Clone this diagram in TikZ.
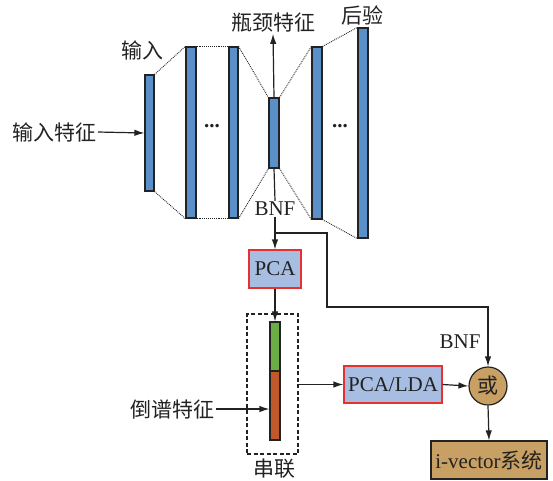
\documentclass[tikz,border=0pt]{standalone}
\usepackage{fontspec}
\setmainfont{Liberation Serif}
\newfontfamily\cjk{Noto Sans CJK SC}
\usetikzlibrary{arrows.meta}
\definecolor{layerblue}{HTML}{5B8FC7}
\definecolor{boxblue}{HTML}{A7BEE2}
\definecolor{boxred}{HTML}{E8302E}
\definecolor{bargreen}{HTML}{6AAD45}
\definecolor{barorange}{HTML}{C0582A}
\definecolor{tan}{HTML}{C9A063}
\definecolor{ink}{HTML}{222222}
\tikzset{
  layer/.style={draw=ink, fill=layerblue, line width=1.2pt, inner sep=0pt},
  conn/.style={draw=ink, line width=1.2pt},
  arr/.style={conn, -{Latex[length=10pt,width=6.5pt]}},
  dots/.style={draw=ink, line width=0.9pt, densely dotted},
  txt/.style={text=ink, font=\fontsize{21}{24}\selectfont},
  lbl/.style={inner sep=1pt, txt},
  procbox/.style={draw=boxred, fill=boxblue, line width=1.2pt, inner sep=0pt, txt},
  barseg/.style={draw=ink, line width=1.2pt, inner sep=0pt, minimum width=10pt},
}
\begin{document}
\begin{tikzpicture}[x=1pt,y=-1pt]
\useasboundingbox (0,0) rectangle (553,480);
% network layers
\node[layer, minimum width=9pt, minimum height=116pt] (l1) at (149.5,133) {};
\node[layer, minimum width=10pt, minimum height=171pt] (l2) at (191,132.5) {};
\node[layer, minimum width=9pt, minimum height=171pt] (l3) at (233.5,132.5) {};
\node[layer, minimum width=10pt, minimum height=70pt] (bn) at (274,133) {};
\node[layer, minimum width=10pt, minimum height=172pt] (l5) at (317,133) {};
\node[layer, minimum width=10pt, minimum height=210pt] (l6) at (363,133) {};
% dotted connections
\draw[dots] (l1.north east) -- (l2.north west) (l1.south east) -- (l2.south west);
\draw[dots] (l2.north east) -- (l3.north west) (l2.south east) -- (l3.south west);
\draw[dots] (l3.north east) -- (bn.north west) (l3.south east) -- (bn.south west);
\draw[dots] (bn.north east) -- (l5.north west) (bn.south east) -- (l5.south west);
\draw[dots] (l5.north east) -- (l6.north west) (l5.south east) -- (l6.south west);
\node[lbl] (d1) at (212,126) {\textbf{...}};
\node[lbl] (d2) at (340,126) {\textbf{...}};
% labels top
\node[lbl] (inlbl) at (142,50) {\cjk 输入};
\node[lbl] (bnlbl) at (273,23) {\cjk 瓶颈特征};
\node[lbl] (post) at (362,15) {\cjk 后验};
\node[lbl, anchor=east] (infeat) at (98,132) {\cjk 输入特征};
\draw[arr] (infeat.east) -- (l1.west);
\draw[arr] (bn.north) -- (bnlbl.south);
% BNF
\node[lbl] (bnf) at (275,209) {BNF};
\node[procbox, minimum width=52pt, minimum height=38pt] (pca) at (275,269) {PCA};
\draw[conn] (bn.south) -- (bnf.north);
\draw[arr] (bnf.south) -- (pca.north);
\coordinate (br) at (275,233);
\coordinate (br2) at (327,233);
\coordinate (br3) at (327,307);
% concatenation
\node[barseg, fill=bargreen, minimum height=49pt] (g) at (275,346.5) {};
\node[barseg, fill=barorange, minimum height=69pt] (o) at (275,405.5) {};
\node[draw=ink, dash pattern=on 4pt off 2.5pt, line width=1.2pt, minimum width=51pt, minimum height=140pt, inner sep=0pt] (cat) at (272.5,384) {};
\node[lbl, inner sep=0pt] (catlbl) at (274,469) {\cjk 串联};
\draw[arr] (pca.south) -- (g.north);
\node[lbl, anchor=east] (cep) at (216,409) {\cjk 倒谱特征};
\draw[arr] (cep.east) -- (cep.east -| o.west);
% PCA/LDA and or
\node[procbox, minimum width=98pt, minimum height=37pt] (pl) at (393,384.5) {PCA/LDA};
\node[circle, draw=ink, fill=tan, line width=1.2pt, minimum size=38pt, inner sep=0pt, txt] (or) at (488,386) {\cjk 或};
\draw[arr] (cat.east |- pl.west) -- (pl.west);
\draw[arr] (pl.east) -- (or.west);
\draw[arr] (br) -- (br2) -- (br3) -| (or.north);
\node[lbl] (bnf2) at (460,342) {BNF};
\node[draw=ink, fill=tan, line width=1.2pt, minimum width=116pt, minimum height=38pt, inner sep=0pt, txt] (iv) at (489,460) {i-vector{\cjk 系统}};
\draw[arr] (or.south) -- (iv.north);
\end{tikzpicture}
\end{document}
